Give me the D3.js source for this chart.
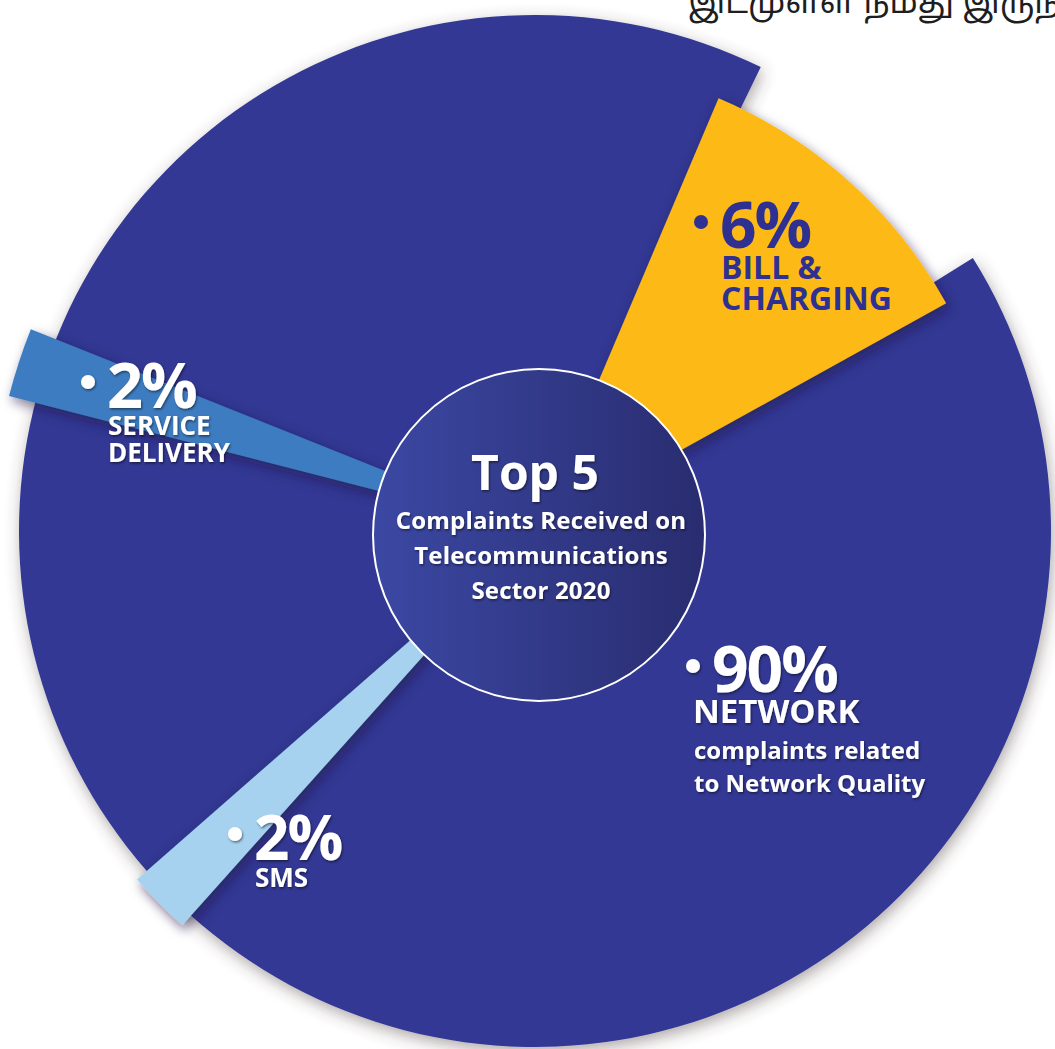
<!DOCTYPE html>
<html>
<head>
<meta charset="utf-8">
<script src="https://cdn.jsdelivr.net/npm/d3@7"></script>
<style>
  html, body { margin: 0; padding: 0; background: #fff; overflow: hidden; }
  svg { display: block; }
  text { font-family: "Open Sans", "Noto Sans", sans-serif; font-weight: 700; }
</style>
</head>
<body>
<script>
// chart values
var categories = ["Network", "Bill & Charging", "Service Delivery", "SMS"];
var values = [90, 6, 2, 2];
var percentLabels = ["90%", "6%", "2%", "2%"];
var nameLines = [["NETWORK"], ["BILL &", "CHARGING"], ["SERVICE", "DELIVERY"], ["SMS"]];
var noteLines = [["complaints related", "to Network Quality"], [], [], []];
var title = "Top 5";
var titleLines = ["Complaints Received on", "Telecommunications", "Sector 2020"];
var headerText = "இடமுள்ள நமது இருந்";

// layout / style
var W = 1055, H = 1049;
var cx = 535, cy = 531;
var sliceColor = ["#313893", "#FDB913", "#3E7BC0", "#A6D2F0"];
var inkColor = ["#ffffff", "#2E3192", "#ffffff", "#ffffff"];
var sliceMid = [222, 42, 288.1, 225.3];      // degrees clockwise from 12 o'clock
var sliceSpread = [1.012, 1.76, 1.03, 0.97];  // visual widening of the wedge
var sliceRadius = [516, 470, 543, 529];
var labelPos = [[712, 692], [720, 248], [107, 408], [254, 860]];
var pctSize = [64, 64, 63, 62];
var nameSize = [33, 32, 26, 26];
var nameGap = [31, 31, 27, 27];

var svg = d3.select("body").append("svg")
    .attr("width", W)
    .attr("height", H);

var defs = svg.append("defs");

var f1 = defs.append("filter").attr("id", "outerShadow")
    .attr("x", "-20%").attr("y", "-20%").attr("width", "140%").attr("height", "140%");
f1.append("feDropShadow").attr("dx", 2).attr("dy", 5).attr("stdDeviation", 8)
    .attr("flood-color", "#4a3c3c").attr("flood-opacity", 0.45);

var f2 = defs.append("filter").attr("id", "wedgeShadow")
    .attr("x", "-30%").attr("y", "-30%").attr("width", "160%").attr("height", "160%");
f2.append("feDropShadow").attr("dx", 3).attr("dy", 5).attr("stdDeviation", 6)
    .attr("flood-color", "#1b1640").attr("flood-opacity", 0.55);

var f3 = defs.append("filter").attr("id", "textShadow");
f3.append("feDropShadow").attr("dx", 1).attr("dy", 1.5).attr("stdDeviation", 0.8)
    .attr("flood-color", "#000").attr("flood-opacity", 0.5);

var grad = defs.append("linearGradient").attr("id", "hubGrad")
    .attr("x1", "0%").attr("y1", "0%").attr("x2", "100%").attr("y2", "0%");
grad.append("stop").attr("offset", "0%").attr("stop-color", "#3B48A3");
grad.append("stop").attr("offset", "100%").attr("stop-color", "#292C6F");

// header line cropped at the top edge
svg.append("text")
    .attr("x", 688).attr("y", 13)
    .style("font-family", "'Noto Sans Tamil', 'Noto Sans', sans-serif")
    .style("font-weight", 400)
    .style("font-size", "33px")
    .attr("fill", "#1e1e1e")
    .text(headerText);

var total = d3.sum(values);
var angle = d3.scaleLinear().domain([0, total]).range([0, 2 * Math.PI]);
var rad = function (deg) { return deg * Math.PI / 180; };

var slices = values.map(function (v, i) {
    var span = angle(v) * sliceSpread[i];
    var mid = rad(sliceMid[i]);
    return {
        index: i,
        name: categories[i],
        value: v,
        startAngle: mid - span / 2,
        endAngle: mid + span / 2
    };
});

var arc = d3.arc()
    .innerRadius(0)
    .outerRadius(function (d) { return sliceRadius[d.index]; });

var g = svg.append("g").attr("transform", "translate(" + cx + "," + cy + ")");

g.selectAll("path.slice")
    .data(slices)
    .enter().append("path")
    .attr("class", "slice")
    .attr("d", arc)
    .attr("fill", function (d) { return sliceColor[d.index]; })
    .attr("filter", function (d) { return d.index == 0 ? "url(#outerShadow)" : "url(#wedgeShadow)"; });

// centre hub
svg.append("circle")
    .attr("cx", 539).attr("cy", 535).attr("r", 166)
    .attr("fill", "url(#hubGrad)")
    .attr("stroke", "#ffffff")
    .attr("stroke-width", 2);

var hub = svg.append("g").attr("filter", "url(#textShadow)").attr("fill", "#fff")
    .attr("text-anchor", "middle");
hub.append("text").attr("x", 535).attr("y", 490).style("font-size", "48px").text(title);
titleLines.forEach(function (t, i) {
    hub.append("text").attr("x", 541).attr("y", 529 + i * 35)
        .style("font-size", "24px")
        .style("letter-spacing", "0.2px")
        .text(t);
});

// slice labels
slices.forEach(function (d) {
    var i = d.index;
    var x = labelPos[i][0], y = labelPos[i][1];
    var lg = svg.append("g").attr("fill", inkColor[i]);
    if (i != 1) lg.attr("filter", "url(#textShadow)");

    lg.append("circle").attr("cx", x - 19).attr("cy", y - 26).attr("r", 7);
    lg.append("text").attr("x", x).attr("y", y)
        .style("font-size", pctSize[i] + "px")
        .style("letter-spacing", "-2px")
        .text(percentLabels[i]);

    var yy = y;
    nameLines[i].forEach(function (t) {
        yy += nameGap[i];
        lg.append("text").attr("x", x + (i == 0 ? -19 : 1)).attr("y", yy)
            .style("font-size", nameSize[i] + "px")
            .text(t);
    });
    yy += 3;
    noteLines[i].forEach(function (t) {
        yy += 33;
        lg.append("text").attr("x", x - 18).attr("y", yy)
            .style("font-size", "24px")
            .text(t);
    });
});
</script>
</body>
</html>
